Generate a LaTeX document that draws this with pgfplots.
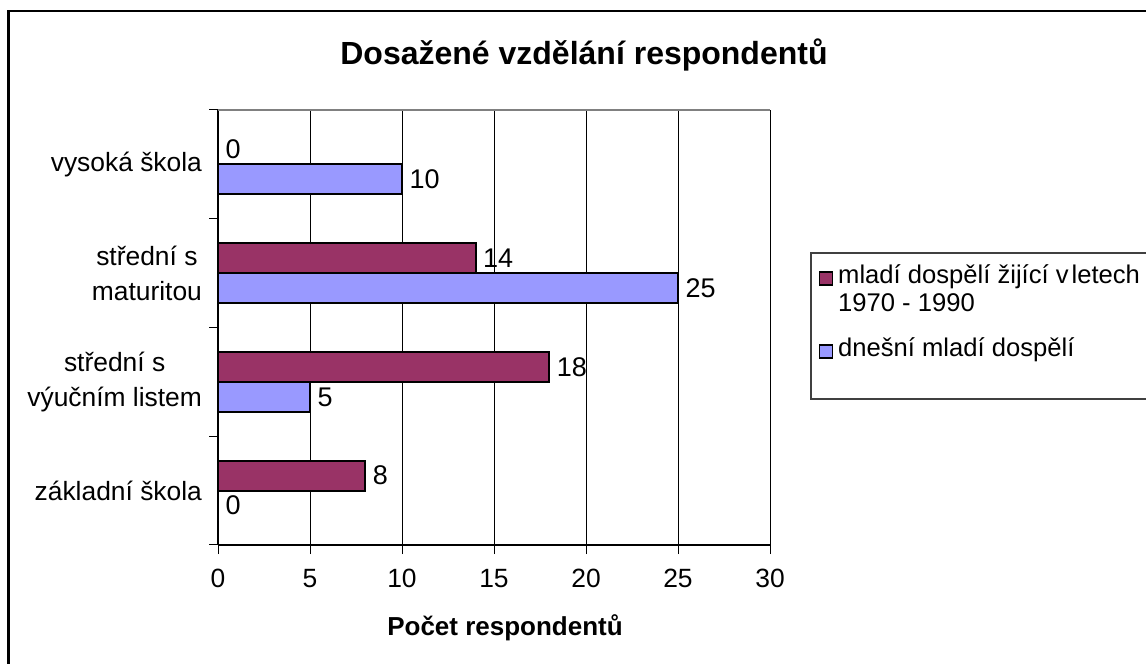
\documentclass[border=0pt]{standalone}
\usepackage{pgfplots}
\pgfplotsset{compat=1.18}
\usepackage{fontspec}
\setmainfont{Liberation Sans}
\definecolor{maroon}{HTML}{993366}
\definecolor{peri}{HTML}{9999FF}
\begin{document}
\begin{tikzpicture}[x=0.5pt,y=0.5pt]
\useasboundingbox (0,0) rectangle (1146,664);
% outer frame (cropped on the right and bottom)
\draw[line width=1.4pt] (8.5,0) -- (8.5,653) -- (1146,653);
\node[font=\fontsize{16}{19}\selectfont\bfseries] at (584,609) {Dosažené vzdělání respondentů};
% legend frame
\draw[line width=0.6pt, black!75] (1146,411) -- (811,411) -- (811,265) -- (1146,265);

\begin{axis}[
    at={(109pt,59.5pt)}, anchor=south west,
    scale only axis, width=276pt, height=217.5pt,
    xmin=0, xmax=30, ymin=-0.5, ymax=3.5,
    xtick={0,5,...,30},
    ytick={-0.5,0.5,1.5,2.5,3.5}, yticklabels={},
    extra y ticks={0,1,2,3},
    extra y tick labels={základní škola, {střední s\\výučním listem}, {střední s\\maturitou}, vysoká škola},
    extra y tick style={tick style={draw=none}},
    axis x line*=bottom, axis y line*=left,
    axis line style={line width=0.6pt},
    tick align=outside, major tick length=4.5pt,
    tick style={black, line width=0.5pt},
    xmajorgrids, grid style={black, line width=0.5pt},
    /pgf/number format/assume math mode=true,
    tick label style={font=\fontsize{13.2}{17.5}\selectfont},
    yticklabel style={align=center},
    xticklabel style={yshift=-4pt},
    xlabel={Počet respondentů},
    xlabel style={font=\fontsize{13}{15}\selectfont\bfseries, at={(axis description cs:0.52,-0.191)}, anchor=center},
    xbar, bar width=0.276,
    nodes near coords,
    nodes near coords style={font=\fontsize{13.5}{15}\selectfont, black},
    legend style={at={(1.08877,0.6437)}, anchor=north west, draw=none, fill=none,
        inner sep=0pt, outer sep=0pt, row sep=0pt, column sep=2.5pt,
        font=\fontsize{12.8}{15}\selectfont,
        nodes={inner sep=0pt, text height=9.3pt, text depth=4.7pt}},
    legend cell align=left,
    sq legend/.style={legend image code/.code={\draw[##1, line width=0.7pt] (0pt,-3pt) rectangle (6.4pt,3.4pt);}},
]
\addplot[fill=maroon, draw=black, line width=0.9pt, bar shift=0.138, sq legend] coordinates {
    (8,0) (18,1) (14,2) (0,3)
};
\addlegendentry{mladí dospělí žijící v\kern1.5pt letech}
\addlegendimage{empty legend}
\addlegendentry{1970 - 1990}
\addlegendimage{empty legend}
\addlegendentry[text height=4.25pt, text depth=4.25pt]{\mbox{}}
\addplot[fill=peri, draw=black, line width=0.9pt, bar shift=-0.138, sq legend] coordinates {
    (0,0) (5,1) (25,2) (10,3)
};
\addlegendentry{dnešní mladí dospělí}
\draw[black!50, line width=0.6pt] (rel axis cs:0,1) -- (rel axis cs:1,1);
\end{axis}
\end{tikzpicture}
\end{document}
